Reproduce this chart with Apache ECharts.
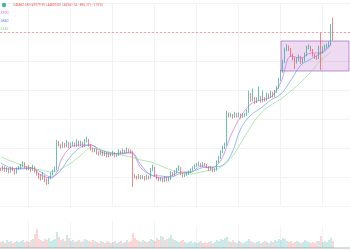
<!DOCTYPE html>
<html><head><meta charset="utf-8">
<script src="https://cdn.jsdelivr.net/npm/echarts@6/dist/echarts.min.js"></script>
<style>html,body{margin:0;padding:0;background:#fff}#c{width:350px;height:250px}</style>
</head><body><div id="c"></div>
<script>
// ---- data ----
const opens = [27100,
26970,27380,26830,27100,26690,27240,26970,26550,27100,27240,
27520,27930,27380,27100,27240,26970,27380,26830,26410,26000,
25720,26140,25590,25170,25860,26410,26830,27100,30690,30410,
30140,30550,30280,30690,30140,30410,30550,30280,30830,30410,
30690,30280,30970,31100,30410,29860,29590,29720,29310,29170,
29450,29030,29310,28900,29170,29030,29310,28900,29030,29450,
29310,29590,29450,29720,29590,29450,26140,26000,25860,26140,
25860,26000,25720,26000,25860,26970,27240,26280,25860,25590,
25720,25450,25860,25590,25720,26550,26280,26690,26970,27240,
26410,26140,26280,26410,26690,26970,27240,27520,27660,27790,
27520,27790,27660,27380,26970,27240,26830,26970,28070,28620,
29450,30000,30410,34690,34410,34550,34280,34690,34410,34550,
34280,34410,34550,34970,37450,36620,36900,36350,36620,37030,
36480,36760,36620,37310,37030,37590,37170,37720,38280,39380,
40480,41860,43520,43930,43660,42830,42410,41860,42140,42550,
41860,42140,42830,43790,43930,43520,42830,42550,42410,43790,
43240,43660,43930,44070,44340,46862.58];
const closes = [
26970,27380,26830,27100,26690,27240,26970,26550,27100,27240,
27520,27930,27380,27100,27240,26970,27380,26830,26410,26000,
25720,26140,25590,25170,25860,26410,26830,27100,30690,30410,
30140,30550,30280,30690,30140,30410,30550,30280,30830,30410,
30690,30280,30970,31100,30410,29860,29590,29720,29310,29170,
29450,29030,29310,28900,29170,29030,29310,28900,29030,29450,
29310,29590,29450,29720,29590,29450,26140,26000,25860,26140,
25860,26000,25720,26000,25860,26970,27240,26280,25860,25590,
25720,25450,25860,25590,25720,26550,26280,26690,26970,27240,
26410,26140,26280,26410,26690,26970,27240,27520,27660,27790,
27520,27790,27660,27380,26970,27240,26830,26970,28070,28620,
29450,30000,30410,34690,34410,34550,34280,34690,34410,34550,
34280,34410,34550,34970,37450,36620,36900,36350,36620,37030,
36480,36760,36620,37310,37030,37590,37170,37720,38280,39380,
40480,41860,43520,43930,43660,42830,42410,41860,42140,42550,
41860,42140,42830,43790,43930,43520,42830,42550,42410,43790,
43240,43660,43930,44070,44340,46862.58,45961.14];
const highs = [
27300,27560,27500,27350,27250,27450,27400,27100,27300,27500,
27800,28150,28050,27500,27600,27400,27700,27500,27000,26600,
26400,26700,26300,25800,26050,26650,27000,27450,31100,31000,
30600,30900,30700,31100,30850,30750,30900,30750,31200,31000,
31000,30850,31250,31550,31250,30550,30050,30000,29900,29500,
29700,29600,29550,29450,29400,29350,29600,29450,29300,29800,
29650,29900,29750,30050,29900,29800,29600,26400,26200,26400,
26300,26250,26150,26300,26200,27250,27700,27400,26400,26000,
25950,25900,26100,26000,26000,26800,26700,26950,27250,27600,
27400,26550,26500,26700,26900,27200,27450,27750,27950,28100,
27950,28050,27950,27800,27500,27500,27350,27200,28300,28900,
29700,30300,30750,35100,34900,34850,34700,35000,34850,34900,
34750,34800,34850,35300,37900,37600,38200,37050,37000,38500,
37200,37900,37000,37650,37500,37900,37750,38000,38550,39650,
40800,42200,43850,44300,44150,43800,43000,42550,42500,42900,
42700,42450,43150,44100,44300,44100,43650,43000,42750,44100,
45900,44000,44250,44400,44700,47100,47979.99];
const lows = [
26800,26850,26700,26700,26500,26600,26800,26350,26450,27000,
27100,27400,27200,26900,26950,26700,26850,26600,26200,25700,
25500,25600,25300,24900,25000,25700,26200,26700,26950,30200,
29900,30000,30050,30100,29950,30000,30250,30100,30150,30200,
30250,30050,30150,30800,30200,29650,29400,29400,29100,28950,
29000,28850,28900,28700,28750,28850,28900,28700,28750,28900,
29150,29200,29250,29300,29400,29250,24620,25800,25650,25700,
25650,25700,25500,25600,25650,25750,26800,26100,25650,25400,
25400,25250,25300,25400,25400,25600,26100,26150,26550,26850,
26250,25950,26000,26150,26300,26550,26850,27100,27400,27500,
27350,27400,27500,27200,26800,26850,26650,26700,26850,27950,
28500,29300,29850,30300,34200,34250,34050,34150,34200,34250,
34050,34150,34250,34400,34850,36400,36450,36100,36200,36500,
36250,36300,36400,36500,36800,36900,36950,37050,37600,38150,
39250,40350,41700,43350,43400,42550,42100,40900,41650,41950,
41600,41650,41950,42650,43600,43300,42600,42300,42150,42250,
40760,43050,43500,43750,43900,44200,44800.00];
const volumes = [
6,7,5,8,6,7,5,6,7,6,
7,8,6,7,6,8,9,14,19,9,
8,7,9,8,10,7,8,9,
16,11,8,9,7,13,10,7,8,6,7,8,6,7,9,8,
7,6,8,7,6,5,7,6,5,7,6,5,6,7,5,6,7,5,6,8,6,7,
15,10,8,7,6,8,7,6,7,9,8,7,10,8,12,11,8,9,10,13,9,8,
7,6,7,8,6,5,6,7,5,6,5,6,7,5,6,5,6,7,5,6,8,7,9,8,10,
11,
7,6,8,6,5,7,6,5,6,7,
9,7,6,5,6,7,5,6,7,6,5,7,6,8,7,9,
8,10,9,7,6,7,5,6,7,6,5,6,8,7,6,5,6,5,7,7,12,6,7,6,8,10,7];
// moving averages read at sampled candles
const maIndex = [0,5,10,15,20,25,28,30,35,40,45,50,55,60,65,70,75,80,85,90,95,100,105,110,115,120,125,130,135,140,145,150,155,160,165];
const maFast = [27240,27100,27240,27240,26280,25860,26690,28340,30140,30410,30410,29450,29170,29310,29310,27240,26280,25860,26140,26690,26690,27520,27240,28340,31790,34410,36070,36620,37030,39100,42690,42410,43100,43100,44210];
const maMid = [27930,27240,27100,27240,26690,26000,26410,26970,28900,30140,30410,29720,29310,29170,29450,27660,26280,26140,26000,26550,26690,27240,27380,27520,29030,32760,34550,35520,36620,37450,39380,41450,42280,43100,44340];
const maSlow = [28760,28210,27660,27240,26970,26690,26830,27100,27930,29030,30000,29720,29380,29030,28760,28340,28070,27520,26970,26550,26410,26690,26970,27380,28620,30690,33030,34830,35930,36760,37860,39100,40480,42140,43240];
const maLabels = ['3700','5840','2147'];
const ohlcLabel = {o:'46862.58', h:'47979.99', l:'44800.00', c:'45961.14', chg:'−896.27 (−1.91%)'};
// highlighted zone (category index range and price bounds)
const boxStart = 140, boxEnd = 174, boxTop = 44760, boxBottom = 40620;
const slotCount = 175;
const categories = Array.from({length: slotCount}, (_, i) => String(i + 1));

// ---- chart ----
const UP = '#26a69a', DOWN = '#ef5350';
const chart = echarts.init(document.getElementById('c'), null, {renderer: 'canvas'});
const candleData = opens.map((o, i) => [o, closes[i], lows[i], highs[i]]);
const volData = volumes.map((v, i) => ({
  value: v,
  itemStyle: {color: closes[i] >= opens[i] ? 'rgba(38,166,154,0.3)' : 'rgba(239,83,80,0.3)'}
}));
const pairs = arr => maIndex.map((idx, k) => [idx, arr[k]]);
const vInterval = (i) => (i - 14) % 21 === 0;
const lastClose = closes[closes.length - 1];

const maLine = (data, color) => ({
  type: 'line', xAxisIndex: 0, yAxisIndex: 0, data: pairs(data),
  showSymbol: false, smooth: 0.35, silent: true,
  lineStyle: {color: color, width: 1, opacity: 0.7}, z: 3
});

chart.setOption({
  animation: false,
  backgroundColor: '#ffffff',
  grid: [
    {left: 0, right: 0, top: 3, height: 203},
    {left: 0, right: 0, top: 221, height: 27}
  ],
  xAxis: [
    {type: 'category', gridIndex: 0, data: categories, boundaryGap: true,
     axisLine: {show: false}, axisTick: {show: false}, axisLabel: {show: false},
     splitLine: {show: true, interval: vInterval, lineStyle: {color: '#f0f2f6', width: 1}}},
    {type: 'category', gridIndex: 1, data: categories, boundaryGap: true, position: 'top',
     axisLine: {show: true, lineStyle: {color: '#d8dbe2', width: 2}}, axisTick: {show: false}, axisLabel: {show: false},
     splitLine: {show: true, interval: vInterval, lineStyle: {color: '#f0f2f6', width: 1}}}
  ],
  yAxis: [
    {type: 'value', gridIndex: 0, min: 22000, max: 50000, interval: 4000,
     axisLine: {show: false}, axisTick: {show: false}, axisLabel: {show: false},
     splitLine: {show: true, lineStyle: {color: '#f0f2f6', width: 1}}},
    {type: 'value', gridIndex: 1, min: 0, max: 27,
     axisLine: {show: false}, axisTick: {show: false}, axisLabel: {show: false},
     splitLine: {show: false}}
  ],
  series: [
    {type: 'candlestick', xAxisIndex: 0, yAxisIndex: 0, data: candleData, barWidth: 1.2,
     itemStyle: {color: UP, color0: DOWN, borderColor: UP, borderColor0: DOWN, borderWidth: 0.7},
     z: 4,
     markLine: {silent: true, symbol: ['none', 'none'], label: {show: false},
       lineStyle: {color: '#ef5350', type: [2, 2], width: 1, opacity: 0.5},
       data: [{yAxis: lastClose}]},
     markArea: {silent: true,
       itemStyle: {color: 'rgba(156,39,176,0.17)', borderColor: 'rgba(150,80,180,0.6)', borderWidth: 1},
       data: [[{xAxis: categories[boxStart], yAxis: boxTop}, {xAxis: categories[boxEnd], yAxis: boxBottom}]]}
    },
    maLine(maFast, '#d66ee6'),
    maLine(maMid, '#6f9ef5'),
    maLine(maSlow, '#92de92'),
    {type: 'bar', xAxisIndex: 1, yAxisIndex: 1, data: volData, barWidth: '78%', silent: true}
  ],
  graphic: [
    {type: 'rect', z: 100, shape: {x: 168, y: 209, width: 166, height: 17, r: 6},
     style: {fill: 'rgba(255,255,255,0.88)', shadowBlur: 8, shadowColor: 'rgba(255,255,255,1)'}},
    {type: 'circle', z: 100, shape: {cx: 4, cy: 5, r: 2.2}, style: {fill: '#26a69a', opacity: 0.85}},
    {type: 'text', z: 100, left: 13, top: 3.3,
     style: {text: '{k|O}{v|' + ohlcLabel.o + '} {k|H}{v|' + ohlcLabel.h + '} {k|L}{v|' + ohlcLabel.l + '} {k|C}{v|' + ohlcLabel.c + '} {v|' + ohlcLabel.chg + '}',
       rich: {k: {fill: '#9598a1', fontSize: 3.2, fontFamily: 'Roboto'}, v: {fill: '#ef5350', fontSize: 3.2, fontFamily: 'Roboto'}},
       fontSize: 3.2, fontFamily: 'Roboto'}},
    {type: 'text', z: 100, left: 0.5, top: 11.5, style: {text: maLabels[0], fill: '#d66ee6', fontSize: 3.6, fontFamily: 'Roboto'}},
    {type: 'text', z: 100, left: 0.5, top: 19.3, style: {text: maLabels[1], fill: '#5b8ff0', fontSize: 3.6, fontFamily: 'Roboto'}},
    {type: 'text', z: 100, left: 0.5, top: 27.3, style: {text: maLabels[2], fill: '#7ad07a', fontSize: 3.6, fontFamily: 'Roboto'}}
  ]
});
</script>
</body></html>
